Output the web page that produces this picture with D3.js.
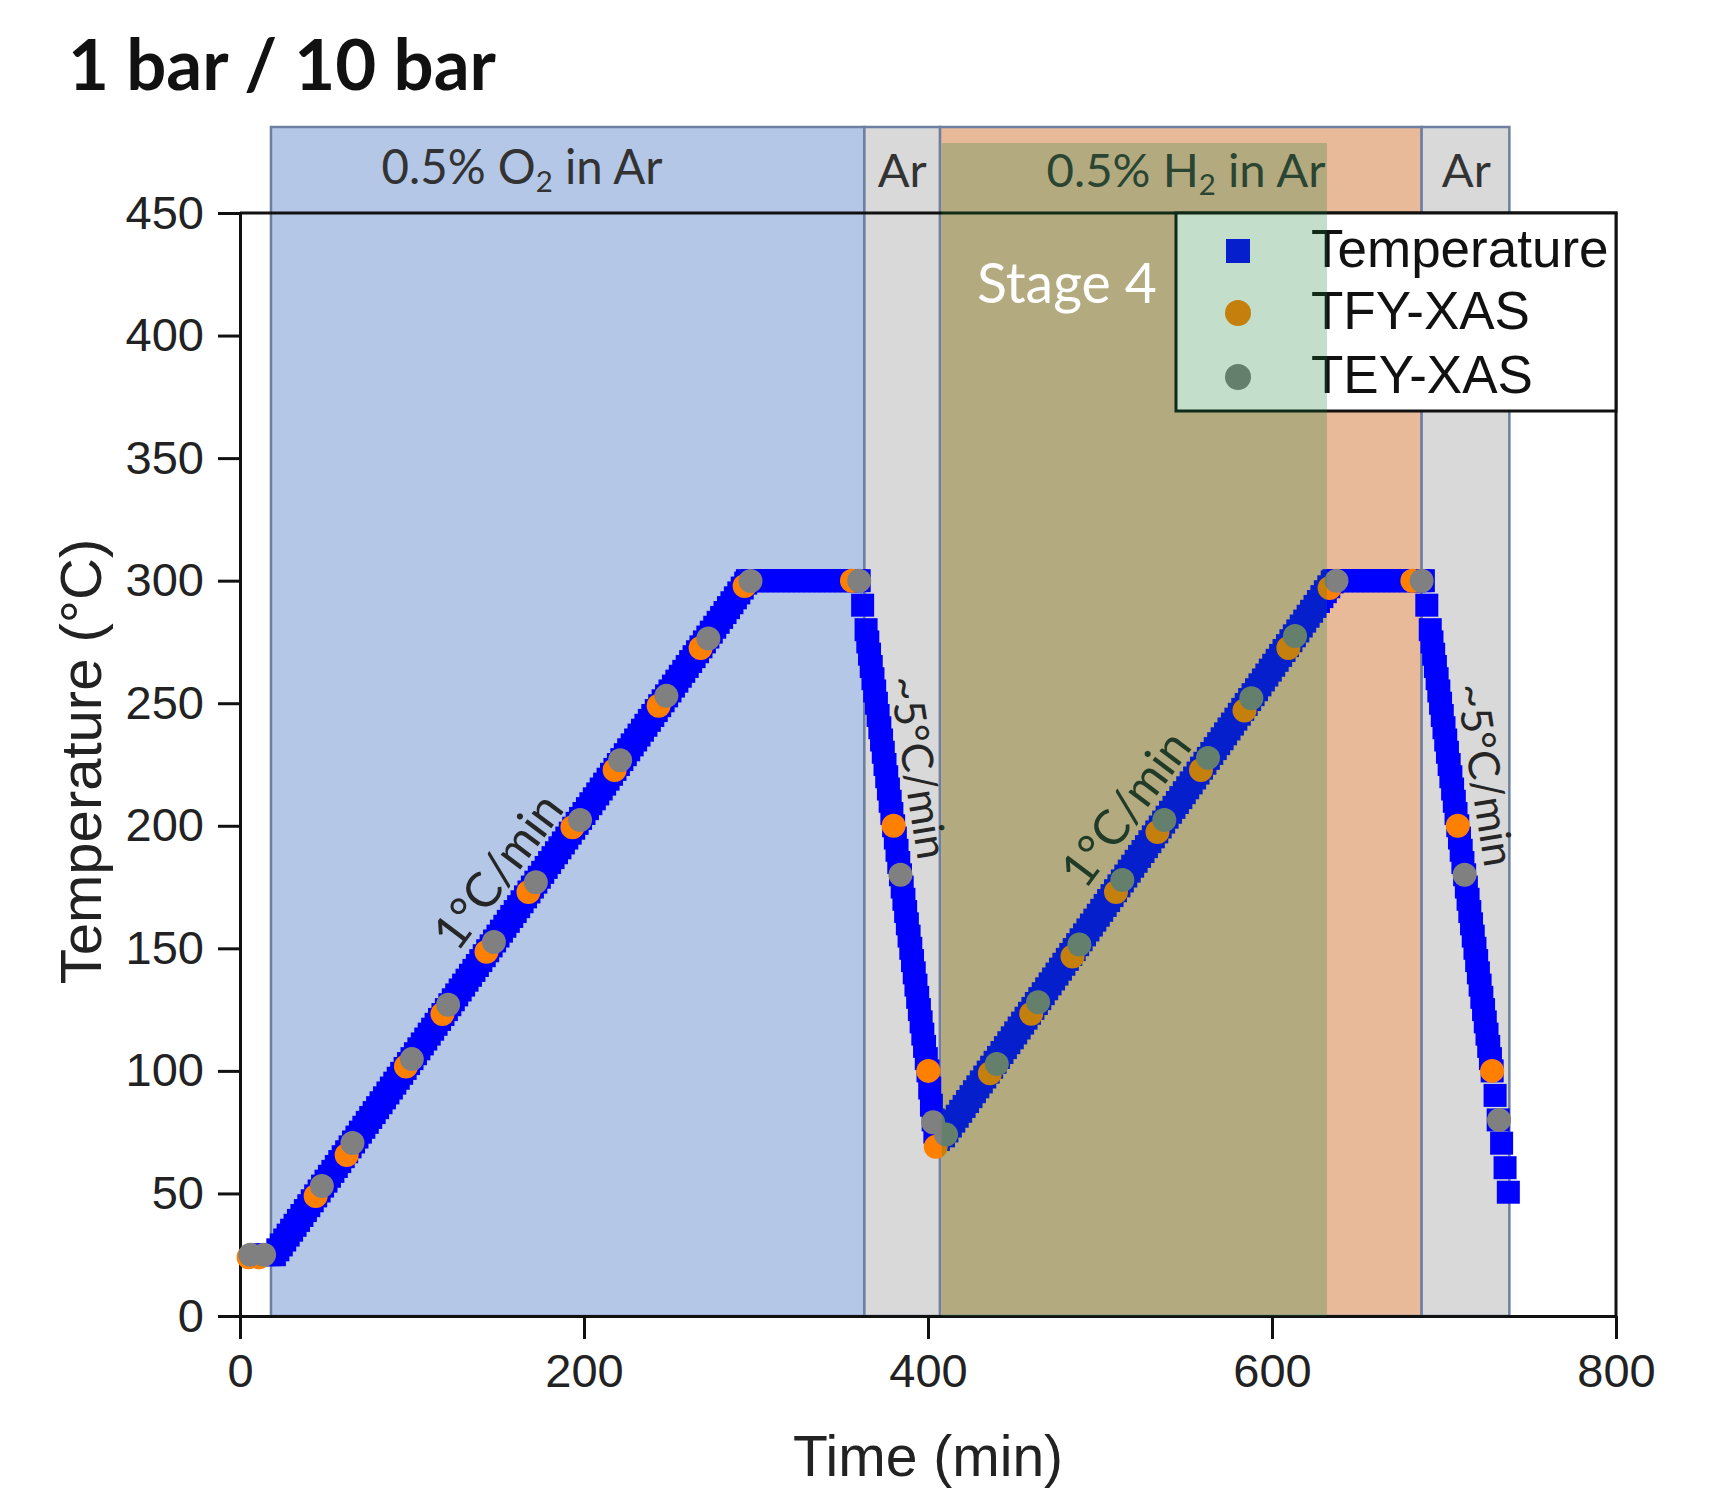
<!DOCTYPE html>
<html><head><meta charset="utf-8">
<script src="https://cdn.jsdelivr.net/npm/d3@7"></script>
<style>body{margin:0;background:#fff} svg{display:block}</style>
</head><body>
<svg id="chart" width="1724" height="1491"></svg>
<script>
// ---------------- DATA ----------------
const xTicks = [0, 200, 400, 600, 800];
const xMinorTicks = [100, 300, 500, 700];
const yTicks = [0, 50, 100, 150, 200, 250, 300, 350, 400, 450];
const yMinorTicks = [25, 75, 125, 175, 225, 275, 325, 375, 425];

// gas atmosphere bands (time in min)
const bandNames = ["0.5% O|2| in Ar", "Ar", "0.5% H|2| in Ar", "Ar"];
const bandStart = [18, 363, 407, 687];
const bandEnd   = [363, 407, 687, 738];
const bandLabelAt = [164, 385, 550, 713];

// highlighted stage 4 region (time in min)
const stageName = "Stage 4";
const stageStart = 408;
const stageEnd = 632;

// Temperature series [time (min), temperature (°C)]
const tempStart = [[14,25],[17,25]];
const tempRamp1 = [[20,25],[22,27],[24,29],[26,31],[28,33],[30,35],[32,37],[34,39],[36,41],[38,43],[40,45],[42,47],[44,49],[46,51],[48,53],[50,55],[52,57],[54,59],[56,61],[58,63],[60,65],[62,67],[64,69],[66,71],[68,73],[70,75],[72,77],[74,79],[76,81],[78,83],[80,85],[82,87],[84,89],[86,91],[88,93],[90,95],[92,97],[94,99],[96,101],[98,103],[100,105],[102,107],[104,109],[106,111],[108,113],[110,115],[112,117],[114,119],[116,121],[118,123],[120,125],[122,127],[124,129],[126,131],[128,133],[130,135],[132,137],[134,139],[136,141],[138,143],[140,145],[142,147],[144,149],[146,151],[148,153],[150,155],[152,157],[154,159],[156,161],[158,163],[160,165],[162,167],[164,169],[166,171],[168,173],[170,175],[172,177],[174,179],[176,181],[178,183],[180,185],[182,187],[184,189],[186,191],[188,193],[190,195],[192,197],[194,199],[196,201],[198,203],[200,205],[202,207],[204,209],[206,211],[208,213],[210,215],[212,217],[214,219],[216,221],[218,223],[220,225],[222,227],[224,229],[226,231],[228,233],[230,235],[232,237],[234,239],[236,241],[238,243],[240,245],[242,247],[244,249],[246,251],[248,253],[250,255],[252,257],[254,259],[256,261],[258,263],[260,265],[262,267],[264,269],[266,271],[268,273],[270,275],[272,277],[274,279],[276,281],[278,283],[280,285],[282,287],[284,289],[286,291],[288,293],[290,295],[292,297],[294,299]];
const tempHold1 = [[295,300],[298,300],[301,300],[304,300],[307,300],[310,300],[313,300],[316,300],[319,300],[322,300],[325,300],[328,300],[331,300],[334,300],[337,300],[340,300],[343,300],[346,300],[349,300],[352,300],[355,300],[358,300],[360,300]];
const tempCool1 = [[362,290],[364,280],[365,275],[366,270],[367,265],[368,260],[369,255],[370,250],[371,245],[372,240],[373,235],[374,230],[375,225],[376,220],[377,215],[378,210],[379,205],[380,200],[381,195],[382,190],[383,185],[384,180],[385,175],[386,170],[387,165],[388,160],[389,155],[390,150],[391,145],[392,140],[393,135],[394,130],[395,125],[396,120],[397,115],[398,110],[399,105],[400,100],[401,93],[402,86],[403,80],[404,75]];
const tempRamp2 = [[406,72],[409,73.5],[411,75.5],[413,77.5],[415,79.5],[417,81.5],[419,83.5],[421,85.5],[423,87.5],[425,89.5],[427,91.5],[429,93.5],[431,95.5],[433,97.5],[435,99.5],[437,101.5],[439,103.5],[441,105.5],[443,107.5],[445,109.5],[447,111.5],[449,113.5],[451,115.5],[453,117.5],[455,119.5],[457,121.5],[459,123.5],[461,125.5],[463,127.5],[465,129.5],[467,131.5],[469,133.5],[471,135.5],[473,137.5],[475,139.5],[477,141.5],[479,143.5],[481,145.5],[483,147.5],[485,149.5],[487,151.5],[489,153.5],[491,155.5],[493,157.5],[495,159.5],[497,161.5],[499,163.5],[501,165.5],[503,167.5],[505,169.5],[507,171.5],[509,173.5],[511,175.5],[513,177.5],[515,179.5],[517,181.5],[519,183.5],[521,185.5],[523,187.5],[525,189.5],[527,191.5],[529,193.5],[531,195.5],[533,197.5],[535,199.5],[537,201.5],[539,203.5],[541,205.5],[543,207.5],[545,209.5],[547,211.5],[549,213.5],[551,215.5],[553,217.5],[555,219.5],[557,221.5],[559,223.5],[561,225.5],[563,227.5],[565,229.5],[567,231.5],[569,233.5],[571,235.5],[573,237.5],[575,239.5],[577,241.5],[579,243.5],[581,245.5],[583,247.5],[585,249.5],[587,251.5],[589,253.5],[591,255.5],[593,257.5],[595,259.5],[597,261.5],[599,263.5],[601,265.5],[603,267.5],[605,269.5],[607,271.5],[609,273.5],[611,275.5],[613,277.5],[615,279.5],[617,281.5],[619,283.5],[621,285.5],[623,287.5],[625,289.5],[627,291.5],[629,293.5],[631,295.5],[633,297.5],[635,299.5]];
const tempHold2 = [[636,300],[638,300],[641,300],[644,300],[647,300],[650,300],[653,300],[656,300],[659,300],[662,300],[665,300],[668,300],[671,300],[674,300],[677,300],[680,300],[683,300],[686,300],[688,300]];
const tempCool2 = [[690,290],[692,280],[693,275],[694,270],[695,265],[696,260],[697,255],[698,250],[699,245],[700,240],[701,235],[702,230],[703,225],[704,220],[705,215],[706,210],[707,205],[708,200],[709,195],[710,190],[711,185],[712,180],[713,175],[714,170],[715,165],[716,160],[717,155],[718,150],[719,145],[720,140],[721,135],[722,130],[723,125],[724,120],[725,115],[726,110],[727,105],[728,100],[729.7,90],[731.5,80],[733.5,70.5],[735.5,60.5],[737.4,50.5]];

// TFY-XAS acquisition points
const tfyXas = [[5,24],[11,24],[44,49],[62,65.7],[96.5,101.8],[117.7,123.2],[143.3,148.6],[167.7,173],[193.3,199.4],[217.8,222.8],[243.4,249],[267.8,272.5],[293.4,297.8],[355.8,300],[380,200],[400.2,100],[404.5,69],[436,99],[460,123.3],[484,146.7],[509.3,173],[533.4,197.5],[558.7,222.8],[584,247],[609.5,272.5],[633.5,297],[681.6,300],[708,200],[728,100]];
// TEY-XAS acquisition points
const teyXas = [[6,25],[14,25],[47.6,53],[65.4,70.6],[99.9,104.8],[121,127],[147.6,152.6],[172,177],[197.7,202.4],[221,226.7],[247.9,253],[272.3,276.4],[296.8,299.9],[360,300],[384,180],[403,79],[410.5,74],[440,102.8],[464,128],[488,151.6],[513,177.9],[537.4,202.4],[562.8,227.7],[588,252],[613.4,277.4],[637.5,300],[687,300],[712,180],[732,80]];

const seriesNames = ["Temperature", "TFY-XAS", "TEY-XAS"];

// annotations: text, anchor time, anchor temperature, rotation
const annotTexts = ["1°C/min", "~5°C/min", "1°C/min", "~5°C/min"];
const annotT = [149, 395.5, 514, 725];
const annotV = [182, 224, 207.5, 221];
const annotRot = [-53, 81, -53, 81];
const annotWidth = [180, 185, 180, 185];

// ---------------- STYLE ----------------
const bandColors = ["#b4c7e7", "#d9d9d9", "#e9ba99", "#d9d9d9"];
const bandStroke = "#6f7f9f";
const stageColor = "rgb(20,124,52)";
const tempColor = "#0000ff";
const tfyColor = "#ff8000";
const teyColor = "#808080";
const SANS = "'Liberation Sans', Arial, sans-serif";
const CAL = "Lato, 'Noto Sans', sans-serif";

// ---------------- LAYOUT ----------------
const svg = d3.select("#chart");
const L = 240, R = 1616, T = 213, B = 1316;
const bandTop = 127, stageTop = 143;
const x = d3.scaleLinear().domain([0, 800]).range([L, R]);
const y = d3.scaleLinear().domain([0, 450]).range([B, T]);

function fit(sel, w) {
  const len = sel.node().getComputedTextLength();
  const fs = parseFloat(sel.attr("font-size"));
  sel.attr("font-size", fs * w / len);
  return sel;
}
function labelWithSub(sel, s) {
  const parts = s.split("|");
  sel.append("tspan").text(parts[0]);
  if (parts.length > 1) {
    sel.append("tspan").attr("font-size", "0.62em").attr("dy", "0.28em").text(parts[1]);
    sel.append("tspan").attr("dy", "-0.17em").text(parts[2]);
  }
}

// bands
const bands = bandNames.map((n, i) => ({n, s: bandStart[i], e: bandEnd[i], c: bandColors[i], at: bandLabelAt[i]}));
svg.append("g").selectAll("rect").data(bands).join("rect")
  .attr("x", d => x(d.s)).attr("y", bandTop)
  .attr("width", d => x(d.e) - x(d.s)).attr("height", B - bandTop)
  .attr("fill", d => d.c).attr("stroke", bandStroke).attr("stroke-width", 2.5);

// band labels
const bandLabelY = [184, 187, 187, 187];
const bandLabelW = [281, 49, 279, 49];
bands.forEach((d, i) => {
  const t = svg.append("text").attr("x", x(d.at)).attr("y", bandLabelY[i])
    .attr("text-anchor", "middle").attr("font-family", CAL).attr("font-size", 48)
    .attr("fill", "#333");
  labelWithSub(t, d.n);
  fit(t, bandLabelW[i]);
});

// axes
const gx = svg.append("g").attr("transform", `translate(0,${B})`);
gx.call(d3.axisBottom(x).tickValues(xMinorTicks).tickSize(13).tickSizeOuter(0).tickFormat(""));
gx.call(d3.axisBottom(x).tickValues(xTicks).tickSize(23).tickSizeOuter(0).tickPadding(15));
const gy = svg.append("g").attr("transform", `translate(${L},0)`);
gy.call(d3.axisLeft(y).tickValues(yMinorTicks).tickSize(12).tickSizeOuter(0).tickFormat(""));
gy.call(d3.axisLeft(y).tickValues(yTicks).tickSize(22).tickSizeOuter(0).tickPadding(14));
[gx, gy].forEach(g => {
  g.selectAll("path.domain").attr("stroke", "#111").attr("stroke-width", 3);
  g.selectAll(".tick line").attr("stroke", "#111").attr("stroke-width", 3);
  g.selectAll(".tick text").attr("font-family", SANS).attr("font-size", 47).attr("fill", "#222");
});
// frame top/right
svg.append("line").attr("x1", L).attr("x2", R + 1.5).attr("y1", T).attr("y2", T).attr("stroke", "#111").attr("stroke-width", 3);
svg.append("line").attr("x1", R).attr("x2", R).attr("y1", T).attr("y2", B).attr("stroke", "#111").attr("stroke-width", 3);

// axis titles
svg.append("text").attr("x", (L + R) / 2).attr("y", 1476).attr("text-anchor", "middle")
  .attr("font-family", SANS).attr("font-size", 57).attr("fill", "#222").text("Time (min)");
svg.append("text").attr("transform", `translate(101,${(539 + 984) / 2}) rotate(-90)`)
  .attr("text-anchor", "middle").attr("font-family", SANS).attr("font-size", 58).attr("fill", "#222")
  .text("Temperature (°C)");

// title
fit(svg.append("text").attr("x", 68).attr("y", 90).attr("font-family", CAL).attr("font-weight", 700)
  .attr("font-size", 72).attr("fill", "#111").text("1 bar / 10 bar"), 428);

// temperature squares
const tempData = [].concat(tempStart, tempRamp1, tempHold1, tempCool1, tempRamp2, tempHold2, tempCool2);
const SQ = 23;
svg.append("g").selectAll("rect").data(tempData).join("rect")
  .attr("x", d => x(d[0]) - SQ / 2).attr("y", d => y(d[1]) - SQ / 2)
  .attr("width", SQ).attr("height", SQ).attr("fill", tempColor);
// XAS points
svg.append("g").selectAll("circle").data(tfyXas).join("circle")
  .attr("cx", d => x(d[0])).attr("cy", d => y(d[1])).attr("r", 12).attr("fill", tfyColor);
svg.append("g").selectAll("circle").data(teyXas).join("circle")
  .attr("cx", d => x(d[0])).attr("cy", d => y(d[1])).attr("r", 12).attr("fill", teyColor);

// annotations
annotTexts.forEach((s, i) => {
  const t = svg.append("text")
    .attr("transform", `translate(${x(annotT[i])},${y(annotV[i])}) rotate(${annotRot[i]})`)
    .attr("text-anchor", "middle").attr("dominant-baseline", "central")
    .attr("font-family", CAL).attr("font-size", 48).attr("fill", "#262626").text(s);
  fit(t, annotWidth[i]);
});

// legend
const lg = svg.append("g");
lg.append("rect").attr("x", 1176).attr("y", T).attr("width", R - 1176).attr("height", 411 - T)
  .attr("fill", "#fff").attr("stroke", "#111").attr("stroke-width", 3);
const legY = [251, 313, 377];
lg.append("rect").attr("x", 1238 - 12).attr("y", legY[0] - 12).attr("width", 24).attr("height", 24).attr("fill", tempColor);
lg.append("circle").attr("cx", 1238).attr("cy", legY[1]).attr("r", 13).attr("fill", tfyColor);
lg.append("circle").attr("cx", 1238).attr("cy", legY[2]).attr("r", 13).attr("fill", teyColor);
seriesNames.forEach((s, i) => {
  lg.append("text").attr("x", 1311).attr("y", legY[i] + 16)
    .attr("font-family", SANS).attr("font-size", 53).attr("fill", "#111").text(s);
});

// stage 4 overlay (translucent, on top)
svg.append("rect").attr("x", x(stageStart)).attr("y", stageTop)
  .attr("width", x(stageEnd) - x(stageStart)).attr("height", B - stageTop)
  .attr("fill", stageColor).attr("fill-opacity", 0.25);
fit(svg.append("text").attr("x", 977).attr("y", 303).attr("font-family", CAL)
  .attr("font-size", 60).attr("fill", "#fff").text(stageName), 180);
</script>
</body></html>
